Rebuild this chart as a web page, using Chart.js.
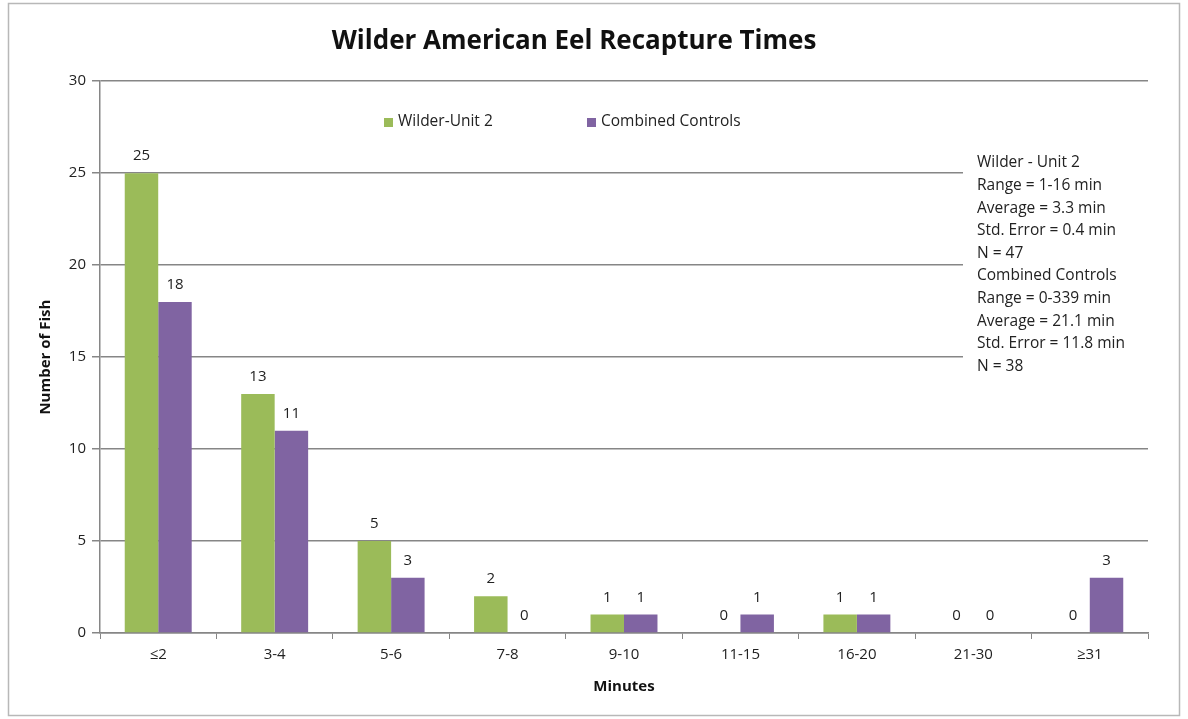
<!DOCTYPE html>
<html>
<head>
<meta charset="utf-8">
<script src="https://cdn.jsdelivr.net/npm/chart.js@4.4.0/dist/chart.umd.min.js"></script>
<style>
  html, body { margin: 0; padding: 0; background: #fff; }
  #wrap { width: 1188px; height: 719px; position: relative; }
</style>
</head>
<body>
<div id="wrap"><canvas id="eelChart" width="1188" height="719"></canvas></div>
<script>
const categories = ["≤2", "3-4", "5-6", "7-8", "9-10", "11-15", "16-20", "21-30", "≥31"];
const wilderUnit2 = [25, 13, 5, 2, 1, 0, 1, 0, 0];
const combinedControls = [18, 11, 3, 0, 1, 1, 1, 0, 3];
const yTicks = [0, 5, 10, 15, 20, 25, 30];
const statsLines = [
  "Wilder - Unit 2",
  "Range = 1-16 min",
  "Average = 3.3 min",
  "Std. Error = 0.4 min",
  "N = 47",
  "Combined Controls",
  "Range = 0-339 min",
  "Average = 21.1 min",
  "Std. Error = 11.8 min",
  "N = 38"
];

const GREEN = "#9BBB59";
const PURPLE = "#8064A2";
const FONT = "'Open Sans', 'Noto Sans', sans-serif";

// frame, value labels, legend and the stats box
const extras = {
  id: "extras",
  beforeDraw(chart) {
    const ctx = chart.ctx;
    ctx.save();
    ctx.fillStyle = "#fff";
    ctx.fillRect(0, 0, chart.width, chart.height);
    ctx.strokeStyle = "#b8b8b8";
    ctx.lineWidth = 1.5;
    ctx.strokeRect(8.5, 3.5, 1171, 712);
    ctx.restore();
  },
  afterDatasetsDraw(chart) {
    const ctx = chart.ctx;
    const area = chart.chartArea;
    ctx.save();
    ctx.font = "15px " + FONT;
    ctx.fillStyle = "#222";
    ctx.textAlign = "center";
    ctx.textBaseline = "alphabetic";
    chart.data.datasets.forEach((ds, i) => {
      chart.getDatasetMeta(i).data.forEach((bar, j) => {
        ctx.fillText(String(ds.data[j]), bar.x, bar.y - 13);
      });
    });

    // white box behind the stats text hides the gridlines
    ctx.fillStyle = "#fff";
    ctx.fillRect(963, 150, area.right - 963 + 1, 228);
    ctx.font = "15.5px " + FONT;
    ctx.fillStyle = "#222";
    ctx.textAlign = "left";
    ctx.textBaseline = "middle";
    statsLines.forEach((line, k) => {
      ctx.fillText(line, 977, 163 + k * 22.6);
    });

    // legend
    const items = [
      { x: 384, label: "Wilder-Unit 2", color: GREEN },
      { x: 587, label: "Combined Controls", color: PURPLE }
    ];
    items.forEach((it) => {
      ctx.fillStyle = it.color;
      ctx.fillRect(it.x, 118, 9, 9);
      ctx.fillStyle = "#222";
      ctx.fillText(it.label, it.x + 14, 122);
    });
    ctx.restore();
  }
};

const ctx = document.getElementById("eelChart").getContext("2d");
new Chart(ctx, {
  type: "bar",
  data: {
    labels: categories,
    datasets: [
      {
        label: "Wilder-Unit 2",
        data: wilderUnit2,
        backgroundColor: GREEN,
        borderWidth: 0,
        barPercentage: 1.0,
        categoryPercentage: 0.575
      },
      {
        label: "Combined Controls",
        data: combinedControls,
        backgroundColor: PURPLE,
        borderWidth: 0,
        barPercentage: 1.0,
        categoryPercentage: 0.575
      }
    ]
  },
  options: {
    responsive: false,
    animation: false,
    layout: { padding: { top: 10, right: 40, bottom: 0, left: 0 } },
    plugins: {
      legend: { display: false },
      tooltip: { enabled: false },
      title: {
        display: true,
        text: "Wilder American Eel Recapture Times",
        color: "#111",
        font: { family: FONT, size: 26, weight: "bold" },
        padding: { top: 16, bottom: 24 }
      }
    },
    scales: {
      x: {
        afterFit: (scale) => { scale.height = 86; },
        grid: {
          display: true,
          drawOnChartArea: false,
          drawTicks: true,
          tickLength: 6,
          color: "#868686",
          offset: true
        },
        border: { color: "#868686", width: 1.5 },
        ticks: {
          color: "#222",
          padding: 7,
          font: { family: FONT, size: 15 }
        },
        title: {
          display: true,
          text: "Minutes",
          color: "#111",
          font: { family: FONT, size: 15, weight: "bold" },
          padding: { top: 0, bottom: 23 }
        }
      },
      y: {
        min: 0,
        max: 30,
        afterFit: (scale) => { scale.width = 100; },
        afterBuildTicks: (scale) => { scale.ticks = yTicks.map((v) => ({ value: v })); },
        grid: {
          color: "#868686",
          lineWidth: 1.5,
          tickLength: 8
        },
        border: { color: "#868686", width: 1.5 },
        ticks: {
          color: "#222",
          padding: 6,
          font: { family: FONT, size: 15 }
        },
        title: {
          display: true,
          text: "Number of Fish",
          color: "#111",
          font: { family: FONT, size: 15, weight: "bold" },
          padding: { top: 37, bottom: 0 }
        }
      }
    }
  },
  plugins: [extras]
});
</script>
</body>
</html>
